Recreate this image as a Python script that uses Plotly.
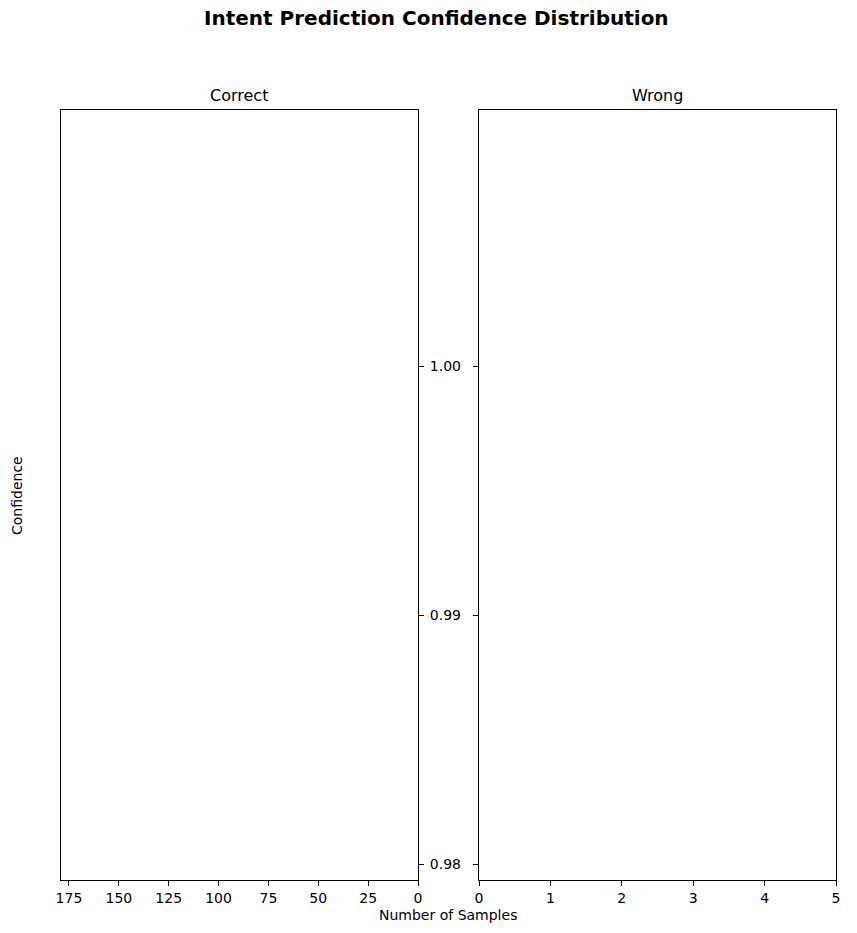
import plotly.graph_objects as go

# Data (the reference shows no visible bars in either panel)
confidence_bins = []
correct_counts = []
wrong_counts = []

panel_titles = ["Correct", "Wrong"]
correct_xticks = [0, 25, 50, 75, 100, 125, 150, 175]
wrong_xticks = [0, 1, 2, 3, 4, 5]
y_ticks = [0.98, 0.99, 1.00]

W, H = 857, 933
FONT = "DejaVu Sans, Arial, sans-serif"

def px_x(p):
    return p / W

def px_y(p):
    return 1 - p / H

fig = go.Figure()
fig.add_trace(go.Bar(x=correct_counts, y=confidence_bins, orientation="h",
                     xaxis="x", yaxis="y", marker_color="#2ca02c", showlegend=False))
fig.add_trace(go.Bar(x=wrong_counts, y=confidence_bins, orientation="h",
                     xaxis="x2", yaxis="y2", marker_color="#d62728", showlegend=False))

axis_common = dict(showline=True, linecolor="black", linewidth=1, mirror=True,
                   ticks="outside", ticklen=5, tickwidth=1, tickcolor="black",
                   showgrid=False, zeroline=False, automargin=False,
                   tickfont=dict(family=FONT, size=14, color="black"))

yrange = [0.97936, 1.01028]

fig.update_layout(
    width=W, height=H,
    margin=dict(l=0, r=0, t=0, b=0, pad=0),
    paper_bgcolor="white", plot_bgcolor="white",
    font=dict(family=FONT, color="black"),
    xaxis=dict(domain=[px_x(61), px_x(418)], range=[179.0, 0], anchor="y",
               tickvals=correct_xticks, **axis_common),
    yaxis=dict(domain=[px_y(880), px_y(110)], range=yrange, anchor="x", side="right",
               tickvals=y_ticks, tickformat=".2f", ticklabelstandoff=3, **axis_common),
    xaxis2=dict(domain=[px_x(479), px_x(836)], range=[0, 5], anchor="y2",
                tickvals=wrong_xticks, **axis_common),
    yaxis2=dict(domain=[px_y(880), px_y(110)], range=yrange, anchor="x2",
                tickvals=y_ticks, showticklabels=False, matches="y", **axis_common),
    annotations=[
        dict(text="<b>Intent Prediction Confidence Distribution</b>", x=px_x(437), y=px_y(18),
             xref="paper", yref="paper", showarrow=False, xanchor="center", yanchor="middle",
             font=dict(family=FONT, size=20, color="black")),
        dict(text=panel_titles[0], x=px_x(239.5), y=px_y(96), xref="paper", yref="paper",
             showarrow=False, xanchor="center", yanchor="middle",
             font=dict(family=FONT, size=16, color="black")),
        dict(text=panel_titles[1], x=px_x(657.5), y=px_y(96), xref="paper", yref="paper",
             showarrow=False, xanchor="center", yanchor="middle",
             font=dict(family=FONT, size=16, color="black")),
        dict(text="Number of Samples", x=px_x(448), y=px_y(915), xref="paper", yref="paper",
             showarrow=False, xanchor="center", yanchor="middle",
             font=dict(family=FONT, size=14, color="black")),
        dict(text="Confidence", x=px_x(17), y=px_y(496), xref="paper", yref="paper",
             showarrow=False, xanchor="center", yanchor="middle", textangle=-90,
             font=dict(family=FONT, size=14, color="black")),
    ],
)

fig.write_html("out.html")
